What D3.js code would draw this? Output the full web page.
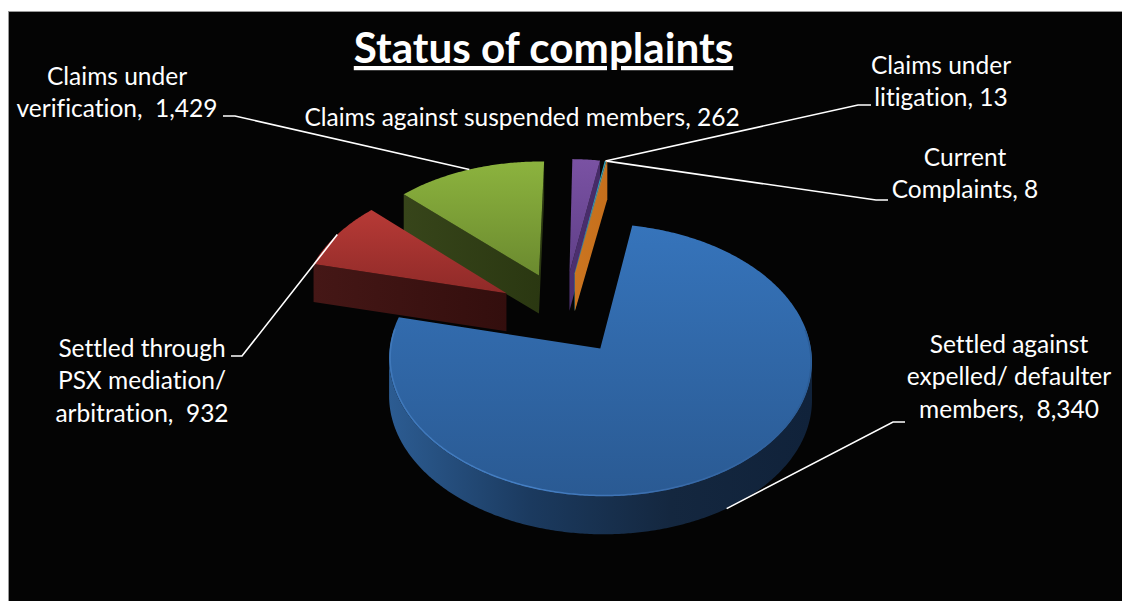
<!DOCTYPE html>
<html>
    <head>
        <script src="https://d3js.org/d3.v7.js"></script>
        <style>
            html, body{
                margin: 0;
                padding: 0;
                background: #fff;
                overflow: hidden;
            }
            text{
                font-family: Lato, "Open Sans", sans-serif;
                font-variant-ligatures: none;
                fill: #fff;
                white-space: pre;
            }
        </style>
    </head>
    <body>
        <div class='graph'>
            <script>
                // data, in the order the slices run clockwise
                const categories = ['Settled against expelled/ defaulter members', 'Settled through PSX mediation/ arbitration', 'Claims under verification', 'Claims against suspended members', 'Claims under litigation', 'Current Complaints']
                const values = [8340, 932, 1429, 262, 13, 8]
                const labelLines = [
                    ['Settled against', 'expelled/ defaulter', 'members,  '],
                    ['Settled through', 'PSX mediation/', 'arbitration,  '],
                    ['Claims under', 'verification,  '],
                    ['Claims against suspended members, '],
                    ['Claims under', 'litigation, '],
                    ['Current', 'Complaints, ']
                ]

                // colours per slice
                const topColors = [['#3674bb', '#2a5a93'], ['#b73a36', '#8f2a28'], ['#8cb33e', '#6b8a2f'], ['#7a52a3', '#5f3f88'], ['#2fa3bb', '#2fa3bb'], ['#d9822b', '#d9822b']]
                const wallColors = [['#2c5c92', '#1b3a5f', '#14273f', '#10223a'], ['#451716', '#330e0d'], ['#37451a', '#2a3711'], ['#4d3071', '#452a66'], ['#1f7f95', '#1f7f95'], ['#cb7520', '#c66f1c']]

                // label layout: centre x, first baseline, leader elbow points (empty = no leader)
                const labelX = [1009, 142, 117, 522, 941, 965]
                const labelY = [353, 357, 85, 126, 74, 166]
                const leaderEnd = [[905, 422], [231, 356], [223, 116], null, [871, 105], [888, 200]]
                const leaderElbow = [[893, 422], [242, 356], [235, 116], null, [858, 105], [876, 200]]

                const w = 1122
                const h = 601
                const cx = 563.5
                const cy = 313
                const radius = 206
                const explode = 66
                const tilt = 0.628
                const perspective = 2500
                const depth = 38
                const lineHeight = 32.4
                const firstAngle = 10.3 * Math.PI / 180

                const svg = d3.select('.graph')
                        .append('svg')
                        .attr('width', w)
                        .attr('height', h)
                        .style('display', 'block')

                svg.append('rect')
                    .attr('x', 8.5)
                    .attr('y', 11.5)
                    .attr('width', w)
                    .attr('height', h)
                    .attr('fill', '#040404')
                    .attr('stroke', '#999')

                const defs = svg.append('defs')

                const pie = d3.pie()
                        .sort(null)
                        .startAngle(firstAngle)
                        .endAngle(firstAngle + 2 * Math.PI)
                const slices = pie(values)

                // disc coordinates (y towards the back) to the screen
                const project = (x, y, drop = 0) => {
                    const s = 1 / (1 + y / perspective)
                    return [cx + x * s, cy - y * tilt * s + drop]
                }

                const onSlice = (d, angle, r) => {
                    const mid = (d.startAngle + d.endAngle) / 2
                    return [
                        explode * Math.sin(mid) + r * Math.sin(angle),
                        explode * Math.cos(mid) + r * Math.cos(angle)
                    ]
                }

                const arcAngles = d => {
                    const n = Math.max(2, Math.ceil((d.endAngle - d.startAngle) / 0.01))
                    return d3.range(n + 1).map(i => d.startAngle + (d.endAngle - d.startAngle) * i / n)
                }

                const line = d3.line()

                const outline = d => [
                    onSlice(d, d.startAngle, 0),
                    ...arcAngles(d).map(a => onSlice(d, a, radius))
                ]

                // walls: every outline edge that runs right to left on screen faces the viewer
                const wallPath = d => {
                    const pts = outline(d)
                    pts.push(pts[0])
                    const runs = []
                    let run = null
                    for(let i = 0; i < pts.length - 1; i++){
                        const a = project(pts[i][0], pts[i][1])
                        const b = project(pts[i + 1][0], pts[i + 1][1])
                        if(b[0] < a[0]){
                            if(!run){
                                run = [a]
                                runs.push(run)
                            }
                            run.push(b)
                        } else {
                            run = null
                        }
                    }
                    return runs.map(r => line(r.concat(r.slice().reverse().map(p => [p[0], p[1] + depth]))) + 'Z').join('')
                }

                const gradient = (id, colors, x2, y2) => {
                    const g = defs.append('linearGradient')
                        .attr('id', id)
                        .attr('x1', 0).attr('y1', 0)
                        .attr('x2', x2).attr('y2', y2)
                    colors.forEach((c, i) => {
                        g.append('stop')
                            .attr('offset', i / (colors.length - 1))
                            .attr('stop-color', c)
                    })
                }

                slices.forEach((d, i) => {
                    gradient('top' + i, topColors[i], 0, 1)
                    gradient('wall' + i, wallColors[i], 1, 0)
                })
                gradient('rim', ['#3f78ba', '#457fc4', '#3a6cab', '#2b5c96'], 1, 0)

                // back to front
                const drawOrder = slices.slice().sort((a, b) =>
                    d3.descending(Math.cos((a.startAngle + a.endAngle) / 2), Math.cos((b.startAngle + b.endAngle) / 2)))

                const sliceGroups = svg.append('g')
                        .selectAll('g')
                        .data(drawOrder)
                        .enter()
                        .append('g')

                sliceGroups.append('path')
                    .attr('d', wallPath)
                    .attr('fill', d => 'url(#wall' + d.index + ')')

                sliceGroups.append('path')
                    .attr('d', d => line(outline(d).map(p => project(p[0], p[1]))) + 'Z')
                    .attr('fill', d => 'url(#top' + d.index + ')')

                // light edge along the front rim of the big slice
                svg.append('path')
                    .datum(slices[0])
                    .attr('d', d => line(arcAngles(d)
                        .filter(a => Math.cos(a) < 0.15)
                        .map(a => onSlice(d, a, radius - 1))
                        .map(p => project(p[0], p[1]))))
                    .attr('fill', 'none')
                    .attr('stroke', 'url(#rim)')
                    .attr('stroke-width', 1.5)

                // leaders run from the label elbow to the middle of the slice edge
                const leaderTarget = d => {
                    const mid = (d.startAngle + d.endAngle) / 2
                    const p = onSlice(d, mid, radius)
                    return project(p[0], p[1], Math.cos(mid) < 0 ? depth : 0)
                }

                svg.append('g')
                    .selectAll('path')
                    .data(slices.filter(d => leaderEnd[d.index]))
                    .enter()
                    .append('path')
                    .attr('d', d => line([leaderEnd[d.index], leaderElbow[d.index], leaderTarget(d)]))
                    .attr('fill', 'none')
                    .attr('stroke', '#fff')
                    .attr('stroke-width', 1.6)

                const labels = svg.append('g')
                        .selectAll('text')
                        .data(slices)
                        .enter()
                        .append('text')
                        .attr('aria-label', d => categories[d.index])
                        .attr('text-anchor', 'middle')
                        .style('font-size', '24.5px')

                labels.selectAll('tspan')
                    .data(d => labelLines[d.index].map((t, j, all) => ({
                        text: j === all.length - 1 ? t + d3.format(',')(d.value) : t,
                        i: d.index,
                        j: j
                    })))
                    .enter()
                    .append('tspan')
                    .attr('x', l => labelX[l.i])
                    .attr('y', l => labelY[l.i] + l.j * lineHeight)
                    .text(l => l.text)

                svg.append('text')
                    .attr('x', 543.5)
                    .attr('y', 63)
                    .attr('text-anchor', 'middle')
                    .style('font-size', '42.2px')
                    .style('font-weight', 700)
                    .style('text-decoration', 'underline')
                    .text('Status of complaints')
            </script>
        </div>
    </body>
</html>
